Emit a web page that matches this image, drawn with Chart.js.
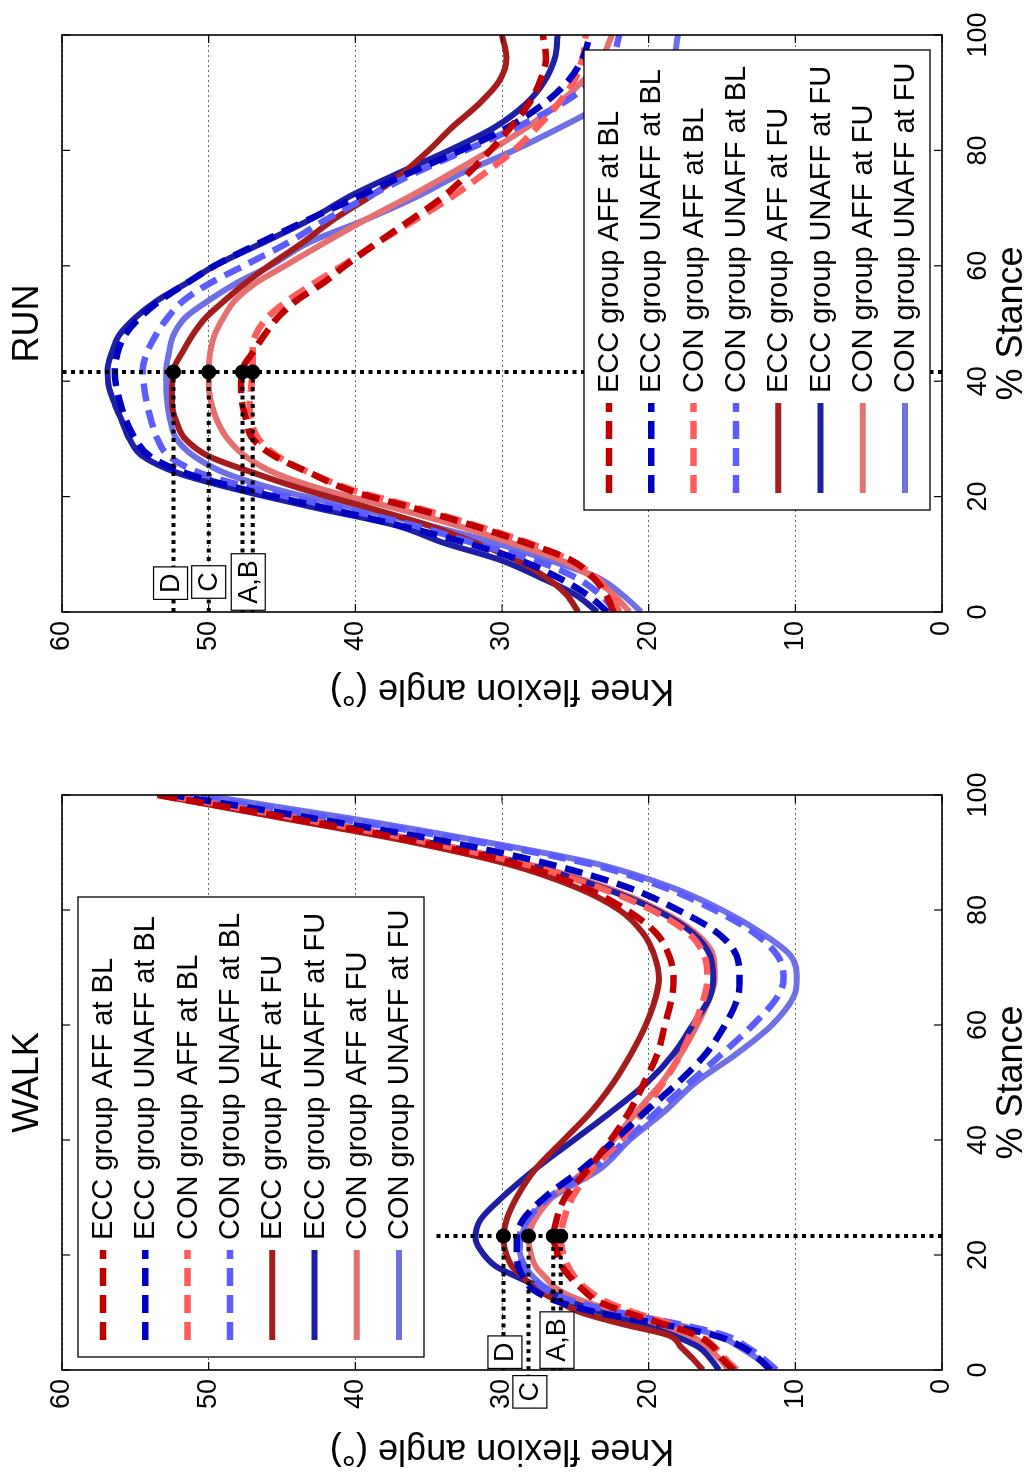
<!DOCTYPE html>
<html>
<head>
<meta charset="utf-8">
<script src="https://cdn.jsdelivr.net/npm/chart.js@4.4.1/dist/chart.umd.min.js"></script>
<style>
  html, body { margin: 0; padding: 0; background: #fff; }
  body { width: 1031px; height: 1475px; overflow: hidden; position: relative; }
  /* the figure is laid out landscape and turned a quarter turn counter-clockwise */
  #figure { position: absolute; left: 0; top: 0; width: 1475px; height: 1031px;
            transform-origin: 0 0; transform: translate(0, 1475px) rotate(-90deg); }
  #walk { position: absolute; left: 0; top: 0; }
  #run { position: absolute; left: 740px; top: 0; }
</style>
</head>
<body>
<div id="figure">
  <canvas id="walk" width="740" height="1031"></canvas>
  <canvas id="run" width="735" height="1031"></canvas>
</div>
<script>
const FONT = '"Liberation Sans", Arial, sans-serif';

const seriesLabels = [
  'ECC group AFF at BL', 'ECC group UNAFF at BL', 'CON group AFF at BL', 'CON group UNAFF at BL',
  'ECC group AFF at FU', 'ECC group UNAFF at FU', 'CON group AFF at FU', 'CON group UNAFF at FU'
];
const seriesColors = ['#c00000', '#0000c0', '#ff5c5c', '#5c5cff', '#a51c1c', '#1f1fa5', '#e57070', '#7070e5'];
const seriesDashed = [true, true, true, true, false, false, false, false];

// WALK (% stance vs knee flexion angle)
const walkStance = [0, 2, 4, 6, 8, 10, 12, 14, 16, 18, 21, 23, 26, 30, 35, 40, 45, 50, 55, 60, 65, 68, 72, 76, 80, 84, 88, 92, 96, 100];
const walkEccAffBL   = [14.2, 15, 15.6, 16.7, 19, 21.5, 23.5, 24.5, 25.3, 25.9, 26.3, 26.5, 26.3, 25.7, 24.1, 22.6, 21.3, 20.3, 19.4, 18.9, 18.4, 18.3, 18.6, 19.5, 21.5, 24.5, 29, 36, 44.5, 53.5];
const walkEccUnaffBL = [11.7, 12.5, 13.6, 15.5, 19.2, 23.5, 26.3, 27.9, 28.5, 28.9, 29, 29, 28.6, 27.1, 24.5, 22.3, 20.2, 18, 16.1, 14.8, 13.9, 13.8, 14, 15.3, 18, 21.5, 26.8, 34, 43, 52.5];
const walkConAffBL   = [14, 14.8, 15.5, 16.5, 18.5, 21, 23, 24.2, 25, 25.5, 25.9, 26, 25.8, 25.2, 23.8, 21.9, 20.4, 19, 17.8, 16.9, 16.2, 16, 16.2, 17.3, 19.8, 23.5, 28.5, 35.5, 44, 53];
const walkConUnaffBL = [11.3, 12.2, 13.3, 14.8, 18, 22, 25.2, 27, 27.9, 28.5, 28.8, 28.8, 28.3, 26.8, 23.8, 21.5, 19.4, 17.2, 15, 12.9, 11.2, 10.8, 11.2, 12.8, 15.5, 19, 24, 32, 41.5, 51.5];
const walkEccAffFU   = [16.3, 17, 17.8, 18.6, 21.8, 24.6, 26.2, 27.6, 28.5, 29.3, 29.8, 29.9, 29.7, 29, 27.7, 25.8, 23.9, 22.4, 21.2, 20.2, 19.5, 19.3, 19.6, 20.4, 22, 25, 29.6, 36.5, 45, 53.5];
const walkEccUnaffFU = [15.2, 15.8, 16.6, 18.3, 20.6, 23.2, 25.5, 27, 28.8, 30.4, 31.5, 31.8, 31.5, 30, 27.7, 25.1, 22.5, 20.1, 18.3, 17, 15.8, 15.6, 15.8, 17, 19.5, 23.3, 28.5, 35.5, 44, 53];
const walkConAffFU   = [14.5, 15.2, 16, 17.2, 19.5, 22, 24.5, 26.2, 27, 27.7, 28.1, 28.2, 27.8, 26.6, 24.2, 22.4, 20.8, 19.1, 17.8, 16.7, 15.8, 15.5, 15.6, 16.8, 19.3, 23, 28.3, 35.5, 44, 53];
const walkConUnaffFU = [11.6, 12.6, 13.8, 15.3, 18.3, 22, 25, 26.8, 27.8, 28.4, 28.8, 28.7, 28.2, 26.6, 23.3, 21.3, 18.9, 16.8, 14, 11.6, 10.1, 9.9, 10.3, 12.3, 15, 18.5, 23.5, 31.5, 40.5, 50.5];

// RUN
const runStance = [0, 3, 6, 9, 12, 15, 18, 21, 24, 27, 30, 33, 36, 39, 42, 45, 48, 51, 54, 57, 60, 64, 68, 72, 76, 80, 84, 88, 92, 96, 100];
const runEccAffBL   = [22.4, 22.9, 23.8, 25.3, 28.4, 32, 36, 40.3, 43, 45.5, 47, 47.4, 47.7, 47.8, 47.7, 47, 46.2, 45.3, 44, 42.2, 40.7, 38.5, 36.2, 34, 32.3, 30.8, 29.4, 28.2, 27.4, 27, 27.2];
const runEccUnaffBL = [22.8, 24.2, 26.2, 28.8, 32.5, 37, 42, 47.2, 51.5, 54, 55, 55.6, 56, 56.3, 56.4, 56.2, 55.7, 54.7, 53.3, 51.5, 49.6, 46.5, 43.2, 39.8, 36.4, 32.8, 29.6, 27.2, 25.5, 24.5, 24];
const runConAffBL   = [22, 22.6, 23.6, 25.4, 28.2, 31.8, 35.7, 40, 43, 45.3, 46.6, 47.1, 47.2, 47.1, 47, 47, 46.8, 46, 44.6, 42.8, 40.9, 38.5, 35.9, 33.4, 31.2, 29.2, 27.6, 26.2, 25.1, 24.5, 24.3];
const runConUnaffBL = [22.2, 23.3, 25, 27.8, 32, 36, 41, 46.3, 50.5, 52.7, 53.5, 53.9, 54.2, 54.4, 54.5, 54.2, 53.6, 52.8, 51.7, 49.9, 47.6, 44.6, 42, 39.1, 36, 32.5, 29, 26, 23.8, 22.5, 22];
const runEccAffFU   = [24.8, 25.6, 27, 29, 31.8, 35, 39, 43.2, 46.8, 50, 51.6, 52.2, 52.5, 52.5, 52.4, 51.8, 51.1, 50.2, 48.9, 47.5, 45.9, 43.6, 41.5, 39, 36.8, 35, 33.4, 31.6, 30.2, 29.7, 30];
const runEccUnaffFU = [23.5, 25, 27.4, 30.1, 34, 37.2, 42.6, 47.7, 52, 54.5, 55.4, 55.9, 56.4, 56.8, 56.9, 56.6, 56.1, 55, 53.5, 51.5, 49.6, 46.3, 43.1, 40.4, 37.1, 33.6, 30.5, 28.4, 27.1, 26.4, 26.2];
const runConAffFU   = [21.3, 22.4, 23.8, 26, 29.4, 33.1, 37.3, 41.9, 45.4, 47.5, 48.7, 49.4, 49.8, 50, 50, 49.9, 49.6, 49, 48.2, 46.8, 44.8, 42.1, 39.3, 36.3, 33.5, 30.8, 28.3, 26.2, 24.5, 23.2, 22.5];
const runConUnaffFU = [20.5, 21.8, 23.5, 26.8, 30.5, 35, 40, 45, 48.8, 51, 52.2, 52.6, 52.8, 52.9, 52.9, 52.7, 52.4, 51.6, 50, 48.1, 45.8, 43.2, 39.3, 35.8, 32.8, 29.2, 26, 23, 20.3, 18.4, 18];

// peak markers (A, B, C, D) and where their dotted leaders end
const walkMarkStance = 23.3, walkMarkTop = 34.7;
const walkMarkValues = [26.5, 26.0, 28.2, 29.9];
const walkLeaderEnd = [0, 0, -1.5, 0];
const runMarkStance = 41.6, runMarkTop = 60;
const runMarkValues = [47.7, 47.0, 50.0, 52.4];
const runLeaderEnd = [0, 0, 0, 0];
const walkTags = [{ text: 'A,B', x: 5.2, y: 26.25 }, { text: 'C', x: -3.8, y: 28.1 }, { text: 'D', x: 3.1, y: 29.8 }];
const runTags = [{ text: 'A,B', x: 5.2, y: 47.3 }, { text: 'C', x: 5.2, y: 50.0 }, { text: 'D', x: 5.0, y: 52.6 }];

function curveSets(stance, seriesList) {
  return seriesList.map((vals, i) => ({
    label: seriesLabels[i],
    data: vals.map((v, k) => ({ x: stance[k], y: v })),
    borderColor: seriesColors[i],
    borderWidth: seriesDashed[i] ? 6.5 : 6,
    borderDash: seriesDashed[i] ? [18, 9] : [],
    cubicInterpolationMode: 'monotone',
    pointRadius: 0,
    order: 1
  }));
}

function markerSets(markStance, markTop, values, leaderEnd) {
  const dotted = { borderColor: '#000', borderWidth: 4, borderDash: [4, 4.5], pointRadius: 0, helper: true, order: 0, clip: false };
  const sets = [Object.assign({ data: [{ x: markStance, y: 0 }, { x: markStance, y: markTop }] }, dotted)];
  values.forEach((v, i) => {
    sets.push(Object.assign({ data: [{ x: leaderEnd[i], y: v }, { x: markStance, y: v }] }, dotted));
  });
  sets.push({
    data: values.map(v => ({ x: markStance, y: v })),
    showLine: false, pointRadius: 7.5, pointBackgroundColor: '#000', pointBorderWidth: 0,
    helper: true, order: 0
  });
  return sets;
}

// box, inward tick marks
const frameTicks = {
  id: 'frameTicks',
  afterDraw(chart) {
    const { ctx, chartArea: a, scales: { x, y } } = chart;
    ctx.save();
    ctx.strokeStyle = '#000';
    ctx.lineWidth = 1.2;
    ctx.beginPath();
    x.ticks.forEach(t => {
      const px = x.getPixelForValue(t.value);
      ctx.moveTo(px, a.bottom); ctx.lineTo(px, a.bottom - 8);
      ctx.moveTo(px, a.top); ctx.lineTo(px, a.top + 8);
    });
    y.ticks.forEach(t => {
      const py = y.getPixelForValue(t.value);
      ctx.moveTo(a.left, py); ctx.lineTo(a.left + 8, py);
      ctx.moveTo(a.right, py); ctx.lineTo(a.right - 8, py);
    });
    ctx.stroke();
    ctx.lineWidth = 1.6;
    ctx.strokeRect(a.left, a.top, a.right - a.left, a.bottom - a.top);
    ctx.restore();
  }
};

// legend drawn inside the axes, like the original
const boxLegend = {
  id: 'boxLegend',
  afterDatasetsDraw(chart, args, opts) {
    const { ctx, chartArea: a } = chart;
    const w = 460, h = 346;
    const left = opts.corner === 'nw' ? a.left + 13 : a.right - 15 - w;
    const top = opts.corner === 'nw' ? a.top + 16 : a.bottom - 12 - h;
    ctx.save();
    ctx.fillStyle = '#fff';
    ctx.fillRect(left, top, w, h);
    ctx.strokeStyle = '#000';
    ctx.lineWidth = 1.3;
    ctx.strokeRect(left, top, w, h);
    ctx.font = '29px ' + FONT;
    ctx.textBaseline = 'middle';
    chart.data.datasets.filter(d => !d.helper).forEach((ds, i) => {
      const yy = top + 25 + i * 42.3;
      ctx.beginPath();
      ctx.setLineDash(ds.borderDash);
      ctx.strokeStyle = ds.borderColor;
      ctx.lineWidth = ds.borderWidth;
      ctx.moveTo(left + 17, yy);
      ctx.lineTo(left + 107, yy);
      ctx.stroke();
      ctx.setLineDash([]);
      ctx.fillStyle = '#000';
      ctx.fillText(ds.label, left + 117, yy + 1);
    });
    ctx.restore();
  }
};

// boxed letters at the end of the dotted leaders
const peakTags = {
  id: 'peakTags',
  afterDraw(chart, args, opts) {
    const { ctx, scales: { x, y } } = chart;
    ctx.save();
    ctx.font = '27px ' + FONT;
    ctx.textAlign = 'center';
    ctx.textBaseline = 'middle';
    (opts.tags || []).forEach(t => {
      const px = x.getPixelForValue(t.x), py = y.getPixelForValue(t.y);
      const w = ctx.measureText(t.text).width + 13, h = 34;
      ctx.fillStyle = '#fff';
      ctx.fillRect(px - w / 2, py - h / 2, w, h);
      ctx.strokeStyle = '#000';
      ctx.lineWidth = 1.2;
      ctx.strokeRect(px - w / 2, py - h / 2, w, h);
      ctx.fillStyle = '#000';
      ctx.fillText(t.text, px, py + 1);
    });
    ctx.restore();
  }
};

function makePanel(id, cfg) {
  return new Chart(document.getElementById(id), {
    type: 'line',
    data: { datasets: cfg.datasets },
    options: {
      responsive: false,
      animation: false,
      devicePixelRatio: 1,
      layout: { padding: { left: 0, right: cfg.padRight, top: 0, bottom: 0 } },
      plugins: {
        legend: { display: false },
        tooltip: { enabled: false },
        title: {
          display: true, text: cfg.title, fullSize: false, color: '#000',
          font: { family: FONT, size: 36, weight: 'normal', lineHeight: 1 },
          padding: { top: 10, bottom: 16 }
        },
        boxLegend: { corner: cfg.legendCorner },
        peakTags: { tags: cfg.tags }
      },
      scales: {
        x: {
          type: 'linear', min: 0, max: 100,
          ticks: { stepSize: 20, color: '#000', font: { family: FONT, size: 27 }, padding: 12, maxRotation: 0 },
          grid: { display: false },
          border: { display: false },
          title: { display: true, text: '% Stance', color: '#000', font: { family: FONT, size: 36, lineHeight: 1 }, padding: { top: 0, bottom: 1 } },
          afterFit: s => { s.height = 89; }
        },
        y: {
          type: 'linear', min: 0, max: 60,
          ticks: { stepSize: 10, color: '#000', font: { family: FONT, size: 27 }, padding: 9 },
          grid: { color: '#444', lineWidth: 0.8, drawTicks: false },
          border: { display: false, dash: [2, 3] },
          title: { display: true, text: 'Knee flexion angle (°)', color: '#000', font: { family: FONT, size: 36, lineHeight: 1 }, padding: { top: cfg.yTitlePad, bottom: 0 } },
          afterFit: s => { s.width = cfg.yWidth; }
        }
      }
    },
    plugins: [boxLegend, frameTicks, peakTags]
  });
}

makePanel('walk', {
  title: 'WALK', padRight: 60, yWidth: 105, yTitlePad: 7, legendCorner: 'nw', tags: walkTags,
  datasets: curveSets(walkStance, [walkEccAffBL, walkEccUnaffBL, walkConAffBL, walkConUnaffBL,
                                   walkEccAffFU, walkEccUnaffFU, walkConAffFU, walkConUnaffFU])
    .concat(markerSets(walkMarkStance, walkMarkTop, walkMarkValues, walkLeaderEnd))
});

makePanel('run', {
  title: 'RUN', padRight: 35, yWidth: 123, yTitlePad: 27, legendCorner: 'se', tags: runTags,
  datasets: curveSets(runStance, [runEccAffBL, runEccUnaffBL, runConAffBL, runConUnaffBL,
                                  runEccAffFU, runEccUnaffFU, runConAffFU, runConUnaffFU])
    .concat(markerSets(runMarkStance, runMarkTop, runMarkValues, runLeaderEnd))
});
</script>
</body>
</html>
